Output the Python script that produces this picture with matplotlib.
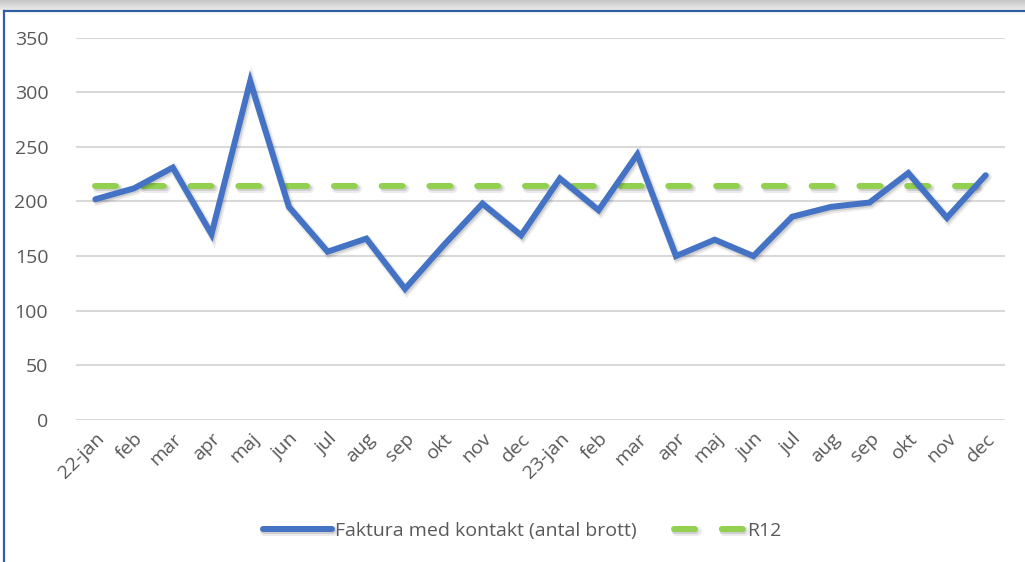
import matplotlib.pyplot as plt
import matplotlib.patheffects as pe
import numpy as np

months = ['22-jan', 'feb', 'mar', 'apr', 'maj', 'jun', 'jul', 'aug', 'sep', 'okt', 'nov', 'dec',
          '23-jan', 'feb', 'mar', 'apr', 'maj', 'jun', 'jul', 'aug', 'sep', 'okt', 'nov', 'dec']
faktura = [202, 212, 231, 170, 310, 195, 154, 166, 120, 160, 198, 169,
           221, 192, 243, 150, 165, 150, 186, 195, 199, 226, 185, 224]
r12 = [214] * len(months)
yticks = [0, 50, 100, 150, 200, 250, 300, 350]

plt.rcParams['font.family'] = ['Open Sans', 'DejaVu Sans']
grey = '#595959'

fig = plt.figure(figsize=(10.25, 5.62), dpi=100)
W, H = 1025, 562

# chart frame: shadow strip on top, blue border top and left
grad = np.linspace(0.62, 0.92, 20).reshape(-1, 1)
fig.figimage(np.repeat(np.dstack([grad, grad, grad]), W, axis=1), xo=0, yo=H - 10, origin='upper', zorder=0)
fig.add_artist(plt.Line2D([4 / W, 4 / W], [0, 1 - 10.5 / H], color='#2e5f9e', lw=1.6, transform=fig.transFigure))
fig.add_artist(plt.Line2D([4 / W, 1], [1 - 10.5 / H, 1 - 10.5 / H], color='#2e5f9e', lw=1.6, transform=fig.transFigure))

ax = fig.add_axes([76 / W, 1 - 420 / H, (1005 - 76) / W, (420 - 37.5) / H])
x = np.arange(len(months))

# soft drop shadow, a few faint offset copies
shadow = [pe.SimpleLineShadow(offset=(1.2, -1.5), shadow_color='black', alpha=0.08, linewidth=6.5),
          pe.SimpleLineShadow(offset=(1.0, -1.2), shadow_color='black', alpha=0.12),
          pe.Normal()]
ax.plot(x, faktura, color='#4472c4', lw=4.3, solid_joinstyle='miter', solid_capstyle='round',
        path_effects=shadow, label='Faktura med kontakt (antal brott)', zorder=3)
ax.plot(x, r12, color='#92d050', lw=4.3, dashes=(3.5, 4.5), dash_capstyle='round',
        path_effects=shadow, label='R12', zorder=2)

ax.set_xlim(-0.5, len(months) - 0.5)
ax.set_ylim(0, 350)
ax.set_yticks(yticks)
ax.set_xticks(x)
ax.set_xticklabels(months, rotation=45, ha='right', rotation_mode='anchor')
ax.tick_params(axis='both', length=0, labelsize=14, labelcolor=grey)
ax.tick_params(axis='y', pad=20)
ax.tick_params(axis='x', pad=7)
ax.grid(axis='y', color='#d9d9d9', lw=1.5)
ax.set_axisbelow(True)
for s in ax.spines.values():
    s.set_visible(False)

leg = ax.legend(loc='center', bbox_to_anchor=(0.48, -0.29), ncol=2, frameon=False, fontsize=14,
                handlelength=3.55, handletextpad=0.2, columnspacing=1.9)
for t in leg.get_texts():
    t.set_color(grey)

fig.savefig('out.png', dpi=100)
